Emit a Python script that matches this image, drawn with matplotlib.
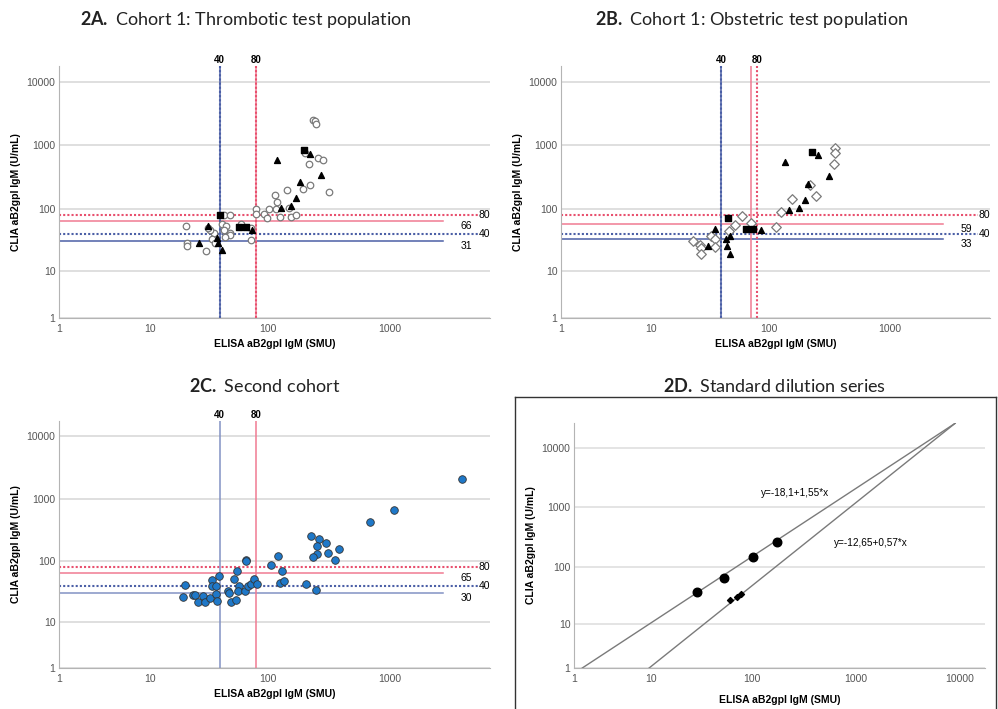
import numpy as np
import matplotlib.pyplot as plt
from matplotlib.lines import Line2D

plt.rcParams['font.family'] = ['Liberation Sans', 'DejaVu Sans']
plt.rcParams['mathtext.fontset'] = 'custom'
plt.rcParams['mathtext.rm'] = 'Lato'
plt.rcParams['mathtext.bf'] = 'Lato:bold'

# ---- data (ELISA SMU on x, CLIA U/mL on y) ----
# 2A thrombotic population
a_circle_x = [235, 245, 250, 203, 258, 284, 218, 222, 194, 320, 144, 115, 119, 103, 80, 80, 93, 98,
              127, 155, 171, 118, 150, 20.8, 21.3, 21.3, 30.8, 43.2, 49.2, 41.9, 45.5, 43.2, 48.5,
              49.2, 44.3, 35.6, 33.3, 32.2, 34.5, 36.8, 60.4, 72.3, 72.3]
a_circle_y = [2545, 2393, 2178, 769, 634, 598, 510, 237, 210, 186, 198, 169, 128, 99, 99, 83, 83, 73,
              75, 75, 81, 99, 106, 53, 29, 26, 21.4, 80, 80, 58, 53, 47, 41,
              38.4, 36, 41, 46, 51, 34, 29, 58, 50, 32]
a_tri_x = [120, 224, 275, 184, 171, 157, 128, 31.9, 27, 41.9, 38, 38.7, 74.7]
a_tri_y = [583, 741, 349, 267, 148, 111, 104, 53, 29, 22, 35, 29, 47]
a_sq_x = [200, 40, 57.7, 65.7]
a_sq_y = [835, 80, 52, 52]

# 2B obstetric population
b_dia_x = [355, 350, 343, 218, 247, 157, 126, 114, 60, 52, 71, 47, 33, 35.6, 35.6, 23, 26.5, 27, 27]
b_dia_y = [907, 769, 504, 243, 161, 143, 90, 52, 78, 57, 60, 45, 37, 33, 25, 31, 26.5, 23.5, 19]
b_sq_x = [228, 46, 65, 74.7]
b_sq_y = [785, 73, 48, 48]
b_tri_x = [255, 137, 316, 211, 198, 179, 147, 86, 36, 48, 44, 45, 48, 31]
b_tri_y = [697, 547, 327, 251, 138, 104, 98, 46, 49, 38, 33, 25.6, 19.4, 26]

# 2C second cohort
c_x = [19.7, 20.4, 23.7, 24.7, 26.4, 28.9, 30.4, 32.9, 34.5, 34.5, 37.5, 39.2, 37.5, 38, 46.7, 48.2,
       50.1, 55.2, 52.4, 56.3, 57.7, 57.4, 65.3, 65.7, 66.6, 69.2, 72.3, 77, 82.2, 107.5, 120.6,
       130.9, 126.7, 135.2, 207, 250, 228.6, 266, 299, 256.6, 255, 235, 312, 383, 355, 685, 1080, 3899]
c_y = [26.3, 42, 28, 28, 21.7, 27, 22, 25, 49.4, 39, 39.4, 58, 28.8, 22.6, 33, 31,
       22, 23.2, 51.8, 68.4, 39.4, 32.6, 32.3, 106.6, 100, 39.4, 42.6, 51.8, 43, 86.3, 120,
       69, 44.6, 48, 43, 34, 252, 231, 197, 176, 133, 116, 136, 160, 104, 433, 655, 2045]

# 2D standard dilution series
d_big_x = [29.4, 54, 104, 174]
d_big_y = [37, 64, 146, 261]
d_small_x = [62, 72.7, 79.5]
d_small_y = [26.8, 30.2, 34]
fit1_x = [1.4, 9000]
fit1_y = [1, 26000]
fit2_x = [9.5, 9000]
fit2_y = [1, 26000]

# cut-off lines: (dotted high, dotted low, solid high, solid low)
a_h = [80, 40, 66, 31]
b_h = [80, 40, 59, 33]
c_h = [80, 40, 65, 30]

RED = '#e8506e'
BLUE = '#4b5fa6'
RED_L = '#f07a92'
BLUE_L = '#8292c4'


def fwd(v):
    return np.log10(1 + np.maximum(v, 0))


def inv(v):
    return 10 ** v - 1


W, H = 998, 709
fig = plt.figure(figsize=(9.98, 7.09), dpi=100)


def px_axes(l, t, r, b):
    return fig.add_axes([l / W, 1 - b / H, (r - l) / W, (b - t) / H])


def setup(ax, xmax, ymax, ticks_x, ticks_y, gridc='#dcdcdc', xpad=4):
    ax.set_xscale('function', functions=(fwd, inv))
    ax.set_yscale('function', functions=(fwd, inv))
    ax.set_xlim(1, xmax)
    ax.set_ylim(1, ymax)
    ax.set_xticks(ticks_x)
    ax.set_xticklabels([str(t) for t in ticks_x])
    ax.set_yticks(ticks_y)
    ax.set_yticklabels([str(t) for t in ticks_y])
    ax.minorticks_off()
    for s in ['top', 'right']:
        ax.spines[s].set_visible(False)
    for s in ['left', 'bottom']:
        ax.spines[s].set_color('#b4b4b4')
    ax.tick_params(length=0, labelsize=7.5, labelcolor='#555555')
    ax.tick_params(axis='y', pad=2.5)
    ax.tick_params(axis='x', pad=4)
    ax.grid(axis='y', color=gridc, lw=1.3)
    ax.set_axisbelow(True)
    ax.set_xlabel('ELISA aB2gpI IgM (SMU)', fontsize=7.5, fontweight='bold', labelpad=xpad)
    ax.set_ylabel('CLIA aB2gpI IgM (U/mL)', fontsize=7.5, fontweight='bold', labelpad=4)


def hlines(ax, vals, solid_red, solid_blue):
    tr = ax.get_yaxis_transform()
    dot = (0, (1, 1))
    ax.plot([0, 0.972], [vals[0]] * 2, color=RED, lw=1.5, ls=dot, transform=tr)
    ax.plot([0, 0.972], [vals[1]] * 2, color=BLUE, lw=1.5, ls=dot, transform=tr)
    ax.plot([0, 0.89], [vals[2]] * 2, color=solid_red, lw=1.1, transform=tr)
    ax.plot([0, 0.89], [vals[3]] * 2, color=solid_blue, lw=1.1, transform=tr)
    ax.text(0.973, vals[0], str(vals[0]), transform=tr, fontsize=7.5, va='center', ha='left')
    ax.text(0.973, vals[1], str(vals[1]), transform=tr, fontsize=7.5, va='center', ha='left')
    ax.text(0.945, vals[2], str(vals[2]), transform=tr, fontsize=7.5, va='top', ha='center')
    ax.text(0.945, vals[3], str(vals[3]), transform=tr, fontsize=7.5, va='top', ha='center')


def vlabels(ax, xs, labels):
    tr = ax.get_xaxis_transform()
    for x, lab in zip(xs, labels):
        ax.text(x, 1.005, lab, transform=tr, ha='center', va='bottom', fontsize=7, fontweight='bold')


def title(x, y, bold, rest):
    fig.text(x / W, 1 - y / H, r'$\mathbf{' + bold + '}$ ' + rest, fontsize=13,
             ha='center', va='center', color='#222222', family='Lato')


ticks3 = [1, 10, 100, 1000]
ticks4 = [1, 10, 100, 1000, 10000]
dot = (0, (1, 1))

# ---- 2A ----
ax = px_axes(59, 66, 490, 318)
setup(ax, 6600, 17500, ticks3, ticks4)
hlines(ax, a_h, RED_L, BLUE)
ax.axvline(40, color=BLUE, lw=1.1)
ax.axvline(40, color=BLUE, lw=1.5, ls=dot)
ax.axvline(80, color=RED_L, lw=1.1)
ax.axvline(80, color=RED, lw=1.5, ls=dot)
vlabels(ax, [40, 80], ['40', '80'])
ax.scatter(a_circle_x, a_circle_y, s=22, facecolors='white', edgecolors='#7a7a7a', linewidths=0.9, zorder=3)
ax.scatter(a_tri_x, a_tri_y, s=18, marker='^', color='black', zorder=3)
ax.scatter(a_sq_x, a_sq_y, s=16, marker='s', color='black', zorder=3)
title(246, 20, '2A.', 'Cohort 1: Thrombotic test population')

# ---- 2B ----
ax = px_axes(561, 66, 990, 318)
setup(ax, 6600, 17500, ticks3, ticks4)
hlines(ax, b_h, RED_L, BLUE)
ax.axvline(40, color=BLUE, lw=1.1)
ax.axvline(40, color=BLUE, lw=1.5, ls=dot)
ax.axvline(72, color=RED_L, lw=1.1)
ax.axvline(80, color=RED, lw=1.5, ls=dot)
vlabels(ax, [40, 80], ['40', '80'])
ax.scatter(b_dia_x, b_dia_y, s=24, marker='D', facecolors='white', edgecolors='#7a7a7a', linewidths=0.9, zorder=3)
ax.scatter(b_tri_x, b_tri_y, s=18, marker='^', color='black', zorder=3)
ax.scatter(b_sq_x, b_sq_y, s=16, marker='s', color='black', zorder=3)
title(752, 20, '2B.', 'Cohort 1: Obstetric test population')

# ---- 2C ----
ax = px_axes(59, 421, 490, 668)
setup(ax, 6600, 17500, ticks3, ticks4)
hlines(ax, c_h, RED_L, BLUE_L)
ax.axvline(40, color=BLUE_L, lw=1.1)
ax.axvline(80, color=RED_L, lw=1.1)
vlabels(ax, [40, 80], ['40', '80'])
ax.scatter(c_x, c_y, s=30, color='#1f78c8', edgecolors='#333333', linewidths=0.6, zorder=3)
title(265, 386, '2C.', 'Second cohort')

# ---- 2D ----
ax = px_axes(574, 423, 985, 668)
setup(ax, 17400, 26300, ticks4, ticks4, gridc='#e2e2e2', xpad=8)
ax.plot(fit1_x, fit1_y, color='#7a7a7a', lw=1)
ax.plot(fit2_x, fit2_y, color='#7a7a7a', lw=1)
ax.scatter(d_big_x, d_big_y, s=38, color='black', zorder=3)
ax.scatter(d_small_x, d_small_y, s=9, marker='D', color='black', zorder=3)
ax.text(0.538, 0.714, 'y=-18,1+1,55*x', transform=ax.transAxes, fontsize=7.2, ha='center', va='center')
ax.text(0.723, 0.51, 'y=-12,65+0,57*x', transform=ax.transAxes, fontsize=7.2, ha='center', va='center')
title(775, 386, '2D.', 'Standard dilution series')

# frame around panel D
bx0, bx1, by = 515 / W, 996 / W, 1 - 397 / H
for xs, ys in [([bx0, bx0], [0, by]), ([bx0, bx1], [by, by]), ([bx1, bx1], [by, 0])]:
    fig.add_artist(Line2D(xs, ys, color='#333333', lw=1, transform=fig.transFigure))

fig.savefig('out.png', dpi=100)
